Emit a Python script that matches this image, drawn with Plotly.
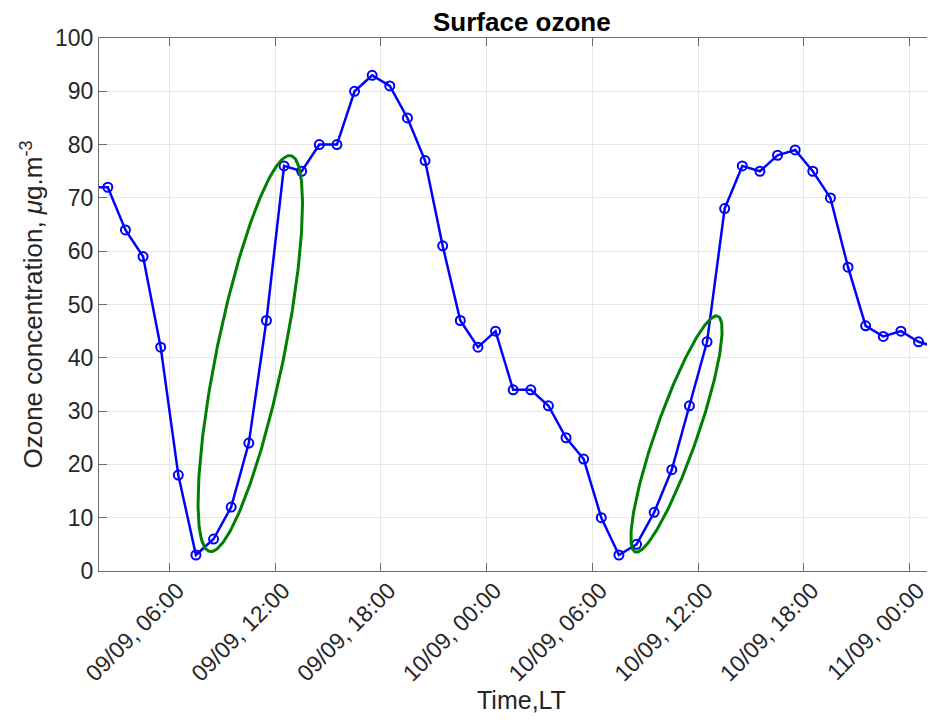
import numpy as np
import pandas as pd
import plotly.graph_objects as go

# ---- data ----
start_time = "2023-09-09 01:30"
ozone = [72, 72, 64, 59, 42, 18, 3, 6, 12, 24, 47, 76, 75, 80, 80, 90, 93, 91, 85, 77,
         61, 47, 42, 45, 34, 34, 31, 25, 21, 10, 3, 5, 11, 19, 31, 43, 68, 76, 75, 78,
         79, 75, 70, 57, 46, 44, 45, 43, 42]
times = pd.date_range(start_time, periods=len(ozone), freq="h")

tick_times = pd.date_range("2023-09-09 06:00", "2023-09-11 00:00", freq="6h")
tick_labels = [t.strftime("%d/%m, %H:%M") for t in tick_times]
y_ticks = list(range(0, 101, 10))

# highlighted rising phases (centre time, centre value)
ellipse_centres = [("2023-09-09 10:35", 40.8), ("2023-09-10 10:46", 25.7)]

# ---- layout geometry (screen pixels; page body has an 8px margin) ----
OFF = 8
SCR_W, SCR_H = 935, 727
W, H = SCR_W - OFF, SCR_H - OFF
plot_left, plot_right, plot_top, plot_bottom = 98.5, 935, 38.3, 570.7
ML = plot_left - OFF
MR = W - (plot_right - OFF)
MT = plot_top - OFF
MB = H - (plot_bottom - OFF)
plot_w = plot_right - plot_left
plot_h = plot_bottom - plot_top
x0 = pd.Timestamp("2023-09-09 02:00")
px_per_hour = 17.635
x1 = x0 + pd.Timedelta(hours=plot_w / px_per_hour)
px_per_unit = plot_h / 100.0

# ellipse shapes in screen pixels: semi-major, semi-minor, tilt (deg)
ellipse_geom = [(201.8, 33.6, 78.4), (124.8, 20.7, 70.7)]

fig = go.Figure()
fig.add_trace(go.Scatter(
    x=times, y=ozone, mode="lines+markers",
    line=dict(color="#0000ff", width=2.5),
    marker=dict(symbol="circle-open", size=9, color="#0000ff", line=dict(width=2)),
    showlegend=False, hoverinfo="x+y"))

phi = np.linspace(0, 2 * np.pi, 240)
for (tc, vc), (a, b, th) in zip(ellipse_centres, ellipse_geom):
    th = np.deg2rad(th)
    dx = a * np.cos(phi) * np.cos(th) - b * np.sin(phi) * np.sin(th)
    dy = a * np.cos(phi) * np.sin(th) + b * np.sin(phi) * np.cos(th)
    ex = pd.Timestamp(tc) + pd.to_timedelta(dx / px_per_hour, unit="h")
    ey = vc + dy / px_per_unit
    fig.add_trace(go.Scatter(x=ex, y=ey, mode="lines",
                             line=dict(color="#008000", width=3),
                             showlegend=False, hoverinfo="skip"))

font_family = "Liberation Sans, Arial, Helvetica, sans-serif"


def px_to_paper_x(px):
    return (px - plot_left) / plot_w


def py_to_paper_y(py):
    return (plot_bottom - py) / plot_h


cx_paper = px_to_paper_x((plot_left + 945) / 2)  # full axes box extends past the window

fig.update_layout(
    width=W, height=H,
    margin=dict(l=ML, r=MR, t=MT, b=MB, autoexpand=False),
    paper_bgcolor="white", plot_bgcolor="white",
    font=dict(family=font_family, color="#262626", size=23),
    annotations=[
        dict(text="<b>Surface ozone</b>", x=cx_paper, y=py_to_paper_y(22),
             xref="paper", yref="paper", xanchor="center", yanchor="middle",
             showarrow=False, font=dict(size=26, color="black", family=font_family)),
        dict(text="Time,LT", x=cx_paper, y=py_to_paper_y(700),
             xref="paper", yref="paper", xanchor="center", yanchor="middle",
             showarrow=False, font=dict(size=25, color="#262626", family=font_family)),
        dict(text="Ozone concentration, <i>μ</i>g.m<sup>-3</sup>", textangle=-90,
             x=px_to_paper_x(31), y=py_to_paper_y(305),
             xref="paper", yref="paper", xanchor="center", yanchor="middle",
             showarrow=False, font=dict(size=26, color="#262626", family=font_family)),
    ],
)
fig.update_xaxes(
    range=[x0, x1], tickmode="array", tickvals=tick_times, ticktext=tick_labels,
    tickangle=-45, ticks="inside", ticklen=8, tickcolor="#6e6e6e", automargin=False,
    ticklabelshift=8, ticklabelstandoff=-4,
    showline=True, linecolor="#6e6e6e", linewidth=1, mirror="ticks",
    showgrid=True, gridcolor="#e6e6e6", gridwidth=1, zeroline=False,
    tickfont=dict(size=23, color="#262626"))
fig.update_yaxes(
    range=[0, 100], tickmode="array", tickvals=y_ticks, automargin=False,
    ticks="inside", ticklen=8, tickcolor="#6e6e6e",
    showline=True, linecolor="#6e6e6e", linewidth=1, mirror=False,
    showgrid=True, gridcolor="#e6e6e6", gridwidth=1, zeroline=False,
    tickfont=dict(size=23, color="#262626"))

fig.write_html("out.html")
